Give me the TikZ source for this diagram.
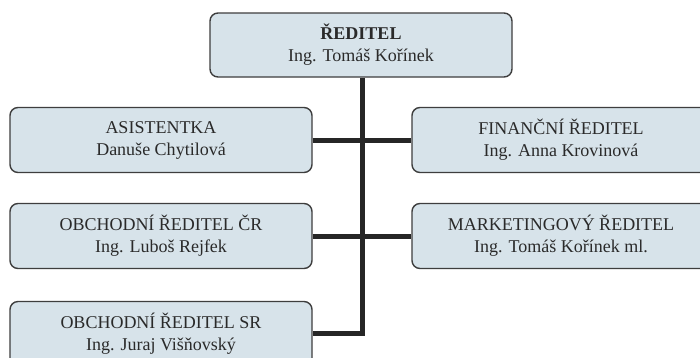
\documentclass[tikz,border=0pt]{standalone}
\usepackage{fontspec}
\setmainfont{Liberation Serif}
\definecolor{boxfill}{HTML}{D7E3EA}
\definecolor{boxline}{HTML}{3E3E3E}
\definecolor{txt}{HTML}{2A2A2A}
\definecolor{conn}{HTML}{262626}
\begin{document}
\begin{tikzpicture}[x=1pt,y=-1pt,
  orgbox/.style={draw=boxline, line width=1.4pt, fill=boxfill, rounded corners=8pt,
    minimum height=65pt, align=center, text=txt, inner sep=0pt,
    font=\fontsize{18}{22}\selectfont},
  wire/.style={draw=conn, line width=5pt}]
\clip (0,0) rectangle (700,357);
\fill[white] (0,0) rectangle (700,357);
\node[orgbox, minimum width=302pt, minimum height=64pt] (dir) at (361,45) {\textbf{ŘEDITEL}\\Ing. Tomáš Kořínek};
\node[orgbox, minimum width=302pt] (asi) at (161,140) {ASISTENTKA\\Danuše Chytilová};
\node[orgbox, minimum width=298pt] (fin) at (561,140) {FINANČNÍ ŘEDITEL\\Ing. Anna Krovinová};
\node[orgbox, minimum width=302pt] (cr) at (161,236) {OBCHODNÍ ŘEDITEL ČR\\Ing. Luboš Rejfek};
\node[orgbox, minimum width=298pt] (mkt) at (561,236) {MARKETINGOVÝ ŘEDITEL\\Ing. Tomáš Kořínek ml.};
\node[orgbox, minimum width=302pt] (sr) at (161,334) {OBCHODNÍ ŘEDITEL SR\\Ing. Juraj Višňovský};
\coordinate (corner) at (362,333);
\draw[wire] (asi.east) -- (fin.west);
\draw[wire] (cr.east) -- (mkt.west);
\draw[wire, line join=miter] (dir.south -| corner) -- (corner) -- (sr.east |- corner);
\end{tikzpicture}
\end{document}
